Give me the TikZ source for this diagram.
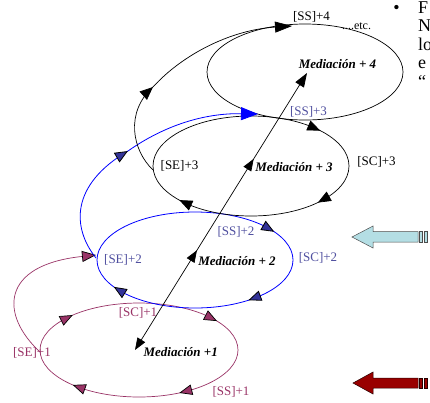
\documentclass[tikz,border=0pt]{standalone}
\usepackage{fontspec}
\setmainfont{Liberation Serif}
\usetikzlibrary{arrows.meta,decorations.markings}
\definecolor{maroonc}{HTML}{993366}
\definecolor{navyc}{HTML}{333399}
\definecolor{lblc}{HTML}{4F4F9F}
\definecolor{cyanc}{HTML}{B4DEE4}
\definecolor{redc}{HTML}{990000}
\newcommand\ellarr[6]{%
  \pgfmathsetmacro\angA{#5-4}%
  \pgfmathsetmacro\angB{#5+5}%
  \draw[#6] ([shift={(#1,#2)}]\angA:#3 and #4) -- ([shift={(#1,#2)}]\angB:#3 and #4);%
}
\tikzset{
  lbl/.style={font=\fontsize{13}{15}\selectfont, anchor=base, inner sep=0pt},
  med/.style={font=\fontsize{13}{15}\selectfont\bfseries\itshape, anchor=base, inner sep=0pt},
  side/.style={font=\fontsize{18}{20}\selectfont, anchor=base west, inner sep=0pt},
  tipM/.style={maroonc, line width=0.7pt, -{Triangle[length=13pt,width=10.5pt,color=black,fill=maroonc]}},
  tipN/.style={blue, line width=0.8pt, -{Triangle[length=13pt,width=10.5pt,color=black,fill=navyc]}},
  tipK/.style={black, line width=0.7pt, -{Triangle[length=13pt,width=10.5pt]}},
  arrowat/.style 2 args={postaction={decorate}, decoration={markings, mark=at position #1 with {\arrow{#2}}}},
  blockarrow/.style={line width=0.5pt, line join=miter},
}
\begin{document}
\begin{tikzpicture}[x=1pt,y=-1pt]
\useasboundingbox (0,0) rectangle (430,402);

% ellipses
\draw[maroonc, line width=0.7pt] (139,350) ellipse[x radius=99pt, y radius=47pt];
\draw[blue, line width=0.8pt] (195,260) ellipse[x radius=98pt, y radius=48pt];
\draw[black, line width=0.7pt] (251,166) ellipse[x radius=98pt, y radius=50pt];
\draw[black, line width=0.7pt] (305,72) ellipse[x radius=98pt, y radius=48pt];

% arrowheads on ellipses
\ellarr{139}{350}{99}{47}{223}{tipM}
\ellarr{139}{350}{99}{47}{317}{tipM}
\ellarr{139}{350}{99}{47}{61}{tipM}
\ellarr{139}{350}{99}{47}{127}{tipM}
\ellarr{195}{260}{98}{48}{319}{tipN}
\ellarr{195}{260}{98}{48}{52}{tipN}
\ellarr{195}{260}{98}{48}{141}{tipN}
\ellarr{251}{166}{98}{50}{310}{tipK}
\ellarr{251}{166}{98}{50}{42}{tipK}
\ellarr{251}{166}{98}{50}{132}{tipK}

% spiral connecting curves
\coordinate (m0) at (40,352);
\coordinate (m1) at (96,255);
\draw[maroonc, line width=0.7pt, -{Triangle[length=14pt,width=11pt,color=black,fill=maroonc]}]
  (m0) .. controls (0,315) and (0,265) .. (m1);

\coordinate (b0) at (96,258);
\coordinate (bk) at (128,151);
\coordinate (b1) at (258,114);
\draw[blue, line width=0.8pt, arrowat={0.999}{Triangle[length=13pt,width=11pt,color=black,fill=navyc]}]
  (b0) .. controls (72,228) and (70,185) .. (bk);
\draw[blue, line width=0.8pt, -{Triangle[length=17pt,width=13pt,color=blue,fill=blue]}]
  (bk) .. controls (165,125) and (205,113) .. (b1);

\coordinate (k0) at (153,170);
\coordinate (kk) at (153,87);
\coordinate (k1) at (292,26);
\draw[black, line width=0.7pt, arrowat={0.999}{Triangle[length=13pt,width=11pt]}]
  (k0) .. controls (132,150) and (125,112) .. (kk);
\draw[black, line width=0.7pt, -{Triangle[length=17pt,width=11pt]}]
  (kk) .. controls (182,55) and (230,30) .. (k1);

% central line
\coordinate (c0) at (135,350);
\coordinate (c1) at (307,73);
\draw[black, line width=0.7pt, {Triangle[length=12pt,width=9pt]}-{Triangle[length=14pt,width=10pt]},
  postaction={decorate}, decoration={markings,
    mark=at position 0.36 with {\arrow{Triangle[length=12pt,width=9pt]}},
    mark=at position 0.69 with {\arrow{Triangle[length=12pt,width=9pt]}}}]
  (c0) -- (c1);

% labels level 4
\node[lbl] (ss4) at (311.5,20.7) {[SS]+4};
\node[lbl, font=\fontsize{12}{14}\selectfont] (etc) at (356.5,29) {....etc.};
\node[med] (m4) at (337.5,68) {Mediación + 4};
% level 3
\node[lbl, text=lblc] (ss3) at (308.5,115) {[SS]+3};
\node[lbl] (se3) at (179.5,169) {[SE]+3};
\node[med] (md3) at (294,171.7) {Mediación + 3};
\node[lbl] (sc3) at (376.5,165) {[SC]+3};
% level 2
\node[lbl, text=lblc] (ss2) at (236,235) {[SS]+2};
\node[lbl, text=lblc] (se2) at (123,263) {[SE]+2};
\node[med] (md2) at (237,265) {Mediación + 2};
\node[lbl, text=lblc] (sc2) at (318,261) {[SC]+2};
% level 1
\node[lbl, text=maroonc] (sc1) at (138,316.7) {[SC]+1};
\node[lbl, text=maroonc] (se1) at (32,356.7) {[SE]+1};
\node[med] (md1) at (180.7,356) {Mediación +1};
\node[lbl, text=maroonc] (ss1) at (231,395) {[SS]+1};

% block arrows
\draw[blockarrow, fill=cyanc, draw=black!70] (352,237) -- (373,226) -- (373,231.5) -- (418,231.5)
  -- (418,242) -- (373,242) -- (373,248) -- cycle;
\draw[blockarrow, fill=cyanc, draw=black!70] (419.5,231.5) rectangle (422.5,242);
\draw[blockarrow, fill=cyanc, draw=black!70] (424.5,231.5) rectangle (427.5,242);
\draw[blockarrow, fill=redc, draw=black!75!redc] (353,383) -- (373,372) -- (373,378) -- (418,378)
  -- (418,388) -- (373,388) -- (373,394) -- cycle;
\draw[blockarrow, fill=redc, draw=black!75!redc] (419.5,378) rectangle (422.5,388);
\draw[blockarrow, fill=redc, draw=black!75!redc] (424.5,378) rectangle (427.5,388);

% cut-off text at right
\node[font=\fontsize{18}{20}\selectfont, anchor=base, inner sep=0pt] (bul) at (396.5,13) {•};
\node[side] (t1) at (418,13) {F};
\node[side] (t2) at (418,31.5) {N};
\node[side] (t3) at (418,50) {lo};
\node[side] (t4) at (418,68.5) {e};
\node[side] (t5) at (418,87) {“};
\end{tikzpicture}
\end{document}
